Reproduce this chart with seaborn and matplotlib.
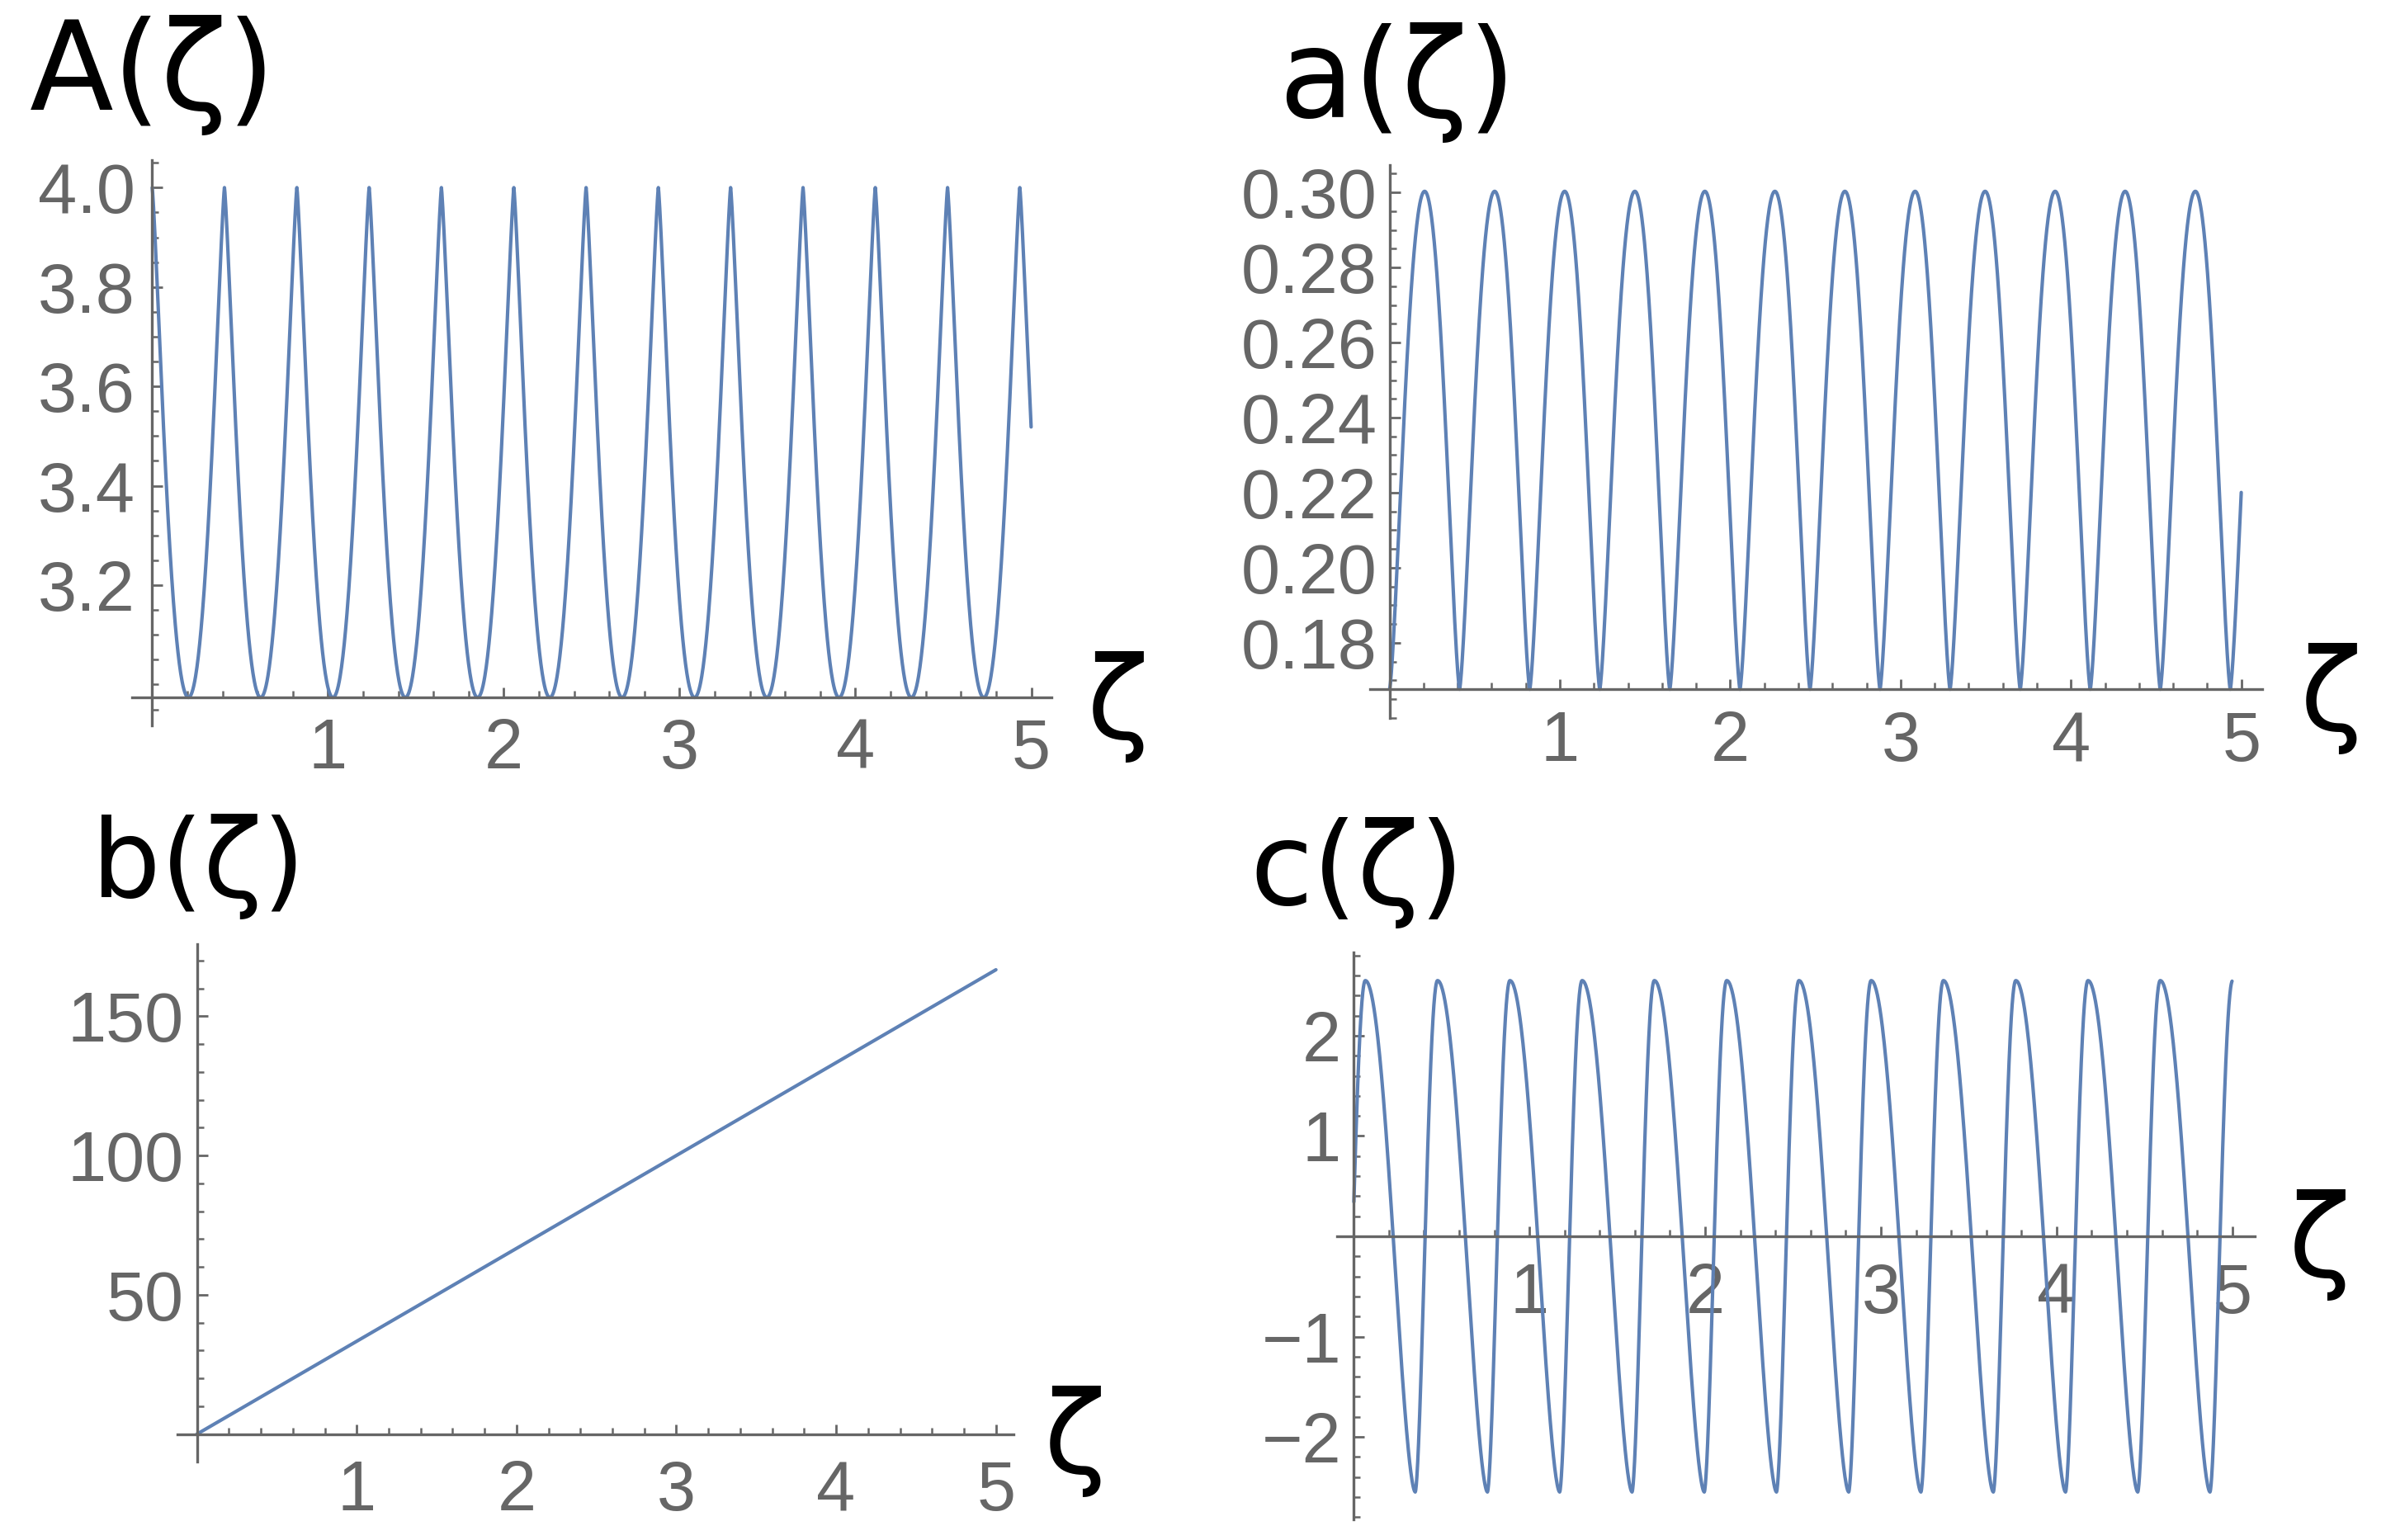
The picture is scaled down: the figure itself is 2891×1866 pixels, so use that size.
import numpy as np
import pandas as pd
import matplotlib
matplotlib.use("Agg")
import matplotlib.pyplot as plt
from matplotlib.ticker import FixedLocator, MultipleLocator, FuncFormatter
import seaborn as sns

# zeta positions of maxima / minima and their levels
A_peak_z = [0.000, 0.411, 0.823, 1.234, 1.645, 2.057, 2.468, 2.879, 3.290, 3.702, 4.113, 4.524, 4.935]
A_trough_z = [0.206, 0.617, 1.028, 1.440, 1.851, 2.262, 2.673, 3.085, 3.496, 3.907, 4.318, 4.730, 5.141]
A_peak, A_trough = 4.0, 2.974

a_peak_z = [0.206, 0.617, 1.028, 1.440, 1.851, 2.262, 2.673, 3.085, 3.496, 3.907, 4.318, 4.730, 5.141]
a_trough_z = [0.000, 0.411, 0.823, 1.234, 1.645, 2.057, 2.468, 2.879, 3.290, 3.702, 4.113, 4.524, 4.935]
a_peak, a_trough = 0.3003, 0.1676

b_z = [0.0, 5.0]
b_val = [0.0, 166.7]

c_peak_z = [0.066, 0.477, 0.889, 1.300, 1.711, 2.123, 2.534, 2.945, 3.356, 3.768, 4.179, 4.590, 5.002]
c_trough_z = [-0.061, 0.350, 0.761, 1.172, 1.584, 1.995, 2.406, 2.817, 3.228, 3.640, 4.051, 4.462, 4.873]
c_peak, c_trough = 2.55, -2.55

zeta_end = 5.0

A_ticks = [3.2, 3.4, 3.6, 3.8, 4.0]
a_ticks = [0.18, 0.20, 0.22, 0.24, 0.26, 0.28, 0.30]
b_ticks = [50, 100, 150]
c_ticks = [-2, -1, 1, 2]
zeta_ticks = [1, 2, 3, 4, 5]

LINE = "#5E81B5"
GRAY = "#666666"


def wave(peak_z, trough_z, peak, trough, sharp=None, g=0.6, n=80):
    # smooth half-wave segments joining the read extrema
    knots = sorted([(z, peak) for z in peak_z] + [(z, trough) for z in trough_z])
    zs, vs = [], []
    for (z0, v0), (z1, v1) in zip(knots[:-1], knots[1:]):
        u = np.linspace(0, 1, n, endpoint=False)
        s = u
        if sharp == "peak":
            s = u ** g if v0 == peak else 1 - (1 - u) ** g
        elif sharp == "trough":
            s = u ** g if v0 == trough else 1 - (1 - u) ** g
        zs.append(z0 + (z1 - z0) * u)
        vs.append(v0 + (v1 - v0) * (1 - np.cos(np.pi * s)) / 2)
    df = pd.DataFrame({"zeta": np.concatenate(zs), "val": np.concatenate(vs)})
    return df[(df.zeta >= 0) & (df.zeta <= zeta_end)]


def fmt(spec):
    return FuncFormatter(lambda v, pos: format(v, spec).replace("-", "\u2212"))


sns.set_style("ticks")
plt.rcParams["font.family"] = ["Liberation Sans", "DejaVu Sans"]

W, H = 2891, 1866
fig = plt.figure(figsize=(W / 100, H / 100), dpi=100)


def add_ax(left, right, top, bottom):
    return fig.add_axes([left / W, 1 - bottom / H, (right - left) / W, (bottom - top) / H])


panels = [
    dict(rect=(159.8, 1274, 193.9, 878.8), xlim=(-0.1155, 5.115), ylim=(2.918, 4.0555),
         df=wave(A_peak_z, A_trough_z, A_peak, A_trough, sharp="peak", g=0.63), origin=A_trough,
         yticks=A_ticks, yminor=0.05, spec=".1f", xpad=17, ypad=15,
         title="A(ζ)", tpos=(35.7, 133), tsize=107, zpos=(1354, 856)),
    dict(rect=(1659.7, 2740.5, 200, 869.7), xlim=(-0.116, 5.12), ylim=(0.160, 0.3073),
         df=wave(a_peak_z, a_trough_z, a_peak, a_trough, sharp="trough", g=0.72), origin=a_trough,
         yticks=a_ticks, yminor=0.005, spec=".2f", xpad=18, ypad=11,
         title="a(ζ)", tpos=(1548.8, 142.4), tsize=107, zpos=(2824, 846)),
    dict(rect=(214.5, 1228, 1144, 1770.8), xlim=(-0.1245, 5.11), ylim=(-9.8, 175.9),
         df=pd.DataFrame({"zeta": b_z, "val": b_val}), origin=0,
         yticks=b_ticks, yminor=10, spec=".0f", xpad=22, ypad=11.5,
         title="b(ζ)", tpos=(111, 1087.3), tsize=95, zpos=(1302, 1746)),
    dict(rect=(1620, 2732, 1154.5, 1840.9), xlim=(-0.095, 5.128), ylim=(-2.822, 2.827),
         df=wave(c_peak_z, c_trough_z, c_peak, c_trough, sharp="trough", g=0.85), origin=0,
         yticks=c_ticks, yminor=0.2, spec=".0f", xpad=22, ypad=11,
         title="c(ζ)", tpos=(1514, 1096), tsize=100, zpos=(2810, 1509)),
]

for p in panels:
    ax = add_ax(*p["rect"])
    sns.lineplot(data=p["df"], x="zeta", y="val", ax=ax, color=LINE, linewidth=3.0,
                 estimator=None, sort=False)
    ax.set_xlim(*p["xlim"])
    ax.set_ylim(*p["ylim"])
    ax.set_xlabel("")
    ax.set_ylabel("")
    ax.patch.set_alpha(0)
    for side in ("top", "right"):
        ax.spines[side].set_visible(False)
    ax.spines["left"].set_position(("data", 0))
    ax.spines["bottom"].set_position(("data", p["origin"]))
    for side in ("left", "bottom"):
        ax.spines[side].set_color(GRAY)
        ax.spines[side].set_linewidth(2.4)
    ax.xaxis.set_major_locator(FixedLocator(zeta_ticks))
    ax.xaxis.set_minor_locator(MultipleLocator(0.2))
    ax.yaxis.set_major_locator(FixedLocator(p["yticks"]))
    ax.yaxis.set_minor_locator(MultipleLocator(p["yminor"]))
    ax.yaxis.set_major_formatter(fmt(p["spec"]))
    ax.xaxis.set_major_formatter(fmt(".0f"))
    ax.tick_params(which="both", bottom=True, left=True, top=False, right=False)
    ax.tick_params(which="major", direction="in", length=9, width=2.0, color=GRAY,
                   labelsize=61, labelcolor=GRAY)
    ax.tick_params(which="minor", direction="in", length=5.5, width=1.8, color=GRAY)
    ax.tick_params(axis="x", which="major", pad=p["xpad"])
    ax.tick_params(axis="y", which="major", pad=p["ypad"])

    fig.text(p["tpos"][0] / W, 1 - p["tpos"][1] / H, p["title"], fontsize=p["tsize"],
             family="DejaVu Sans", color="black", ha="left", va="baseline")
    fig.text(p["zpos"][0] / W, 1 - p["zpos"][1] / H, "ζ", fontsize=100,
             family="DejaVu Sans", color="black", ha="center", va="center")

fig.savefig("out.png", dpi=100, facecolor="white")
